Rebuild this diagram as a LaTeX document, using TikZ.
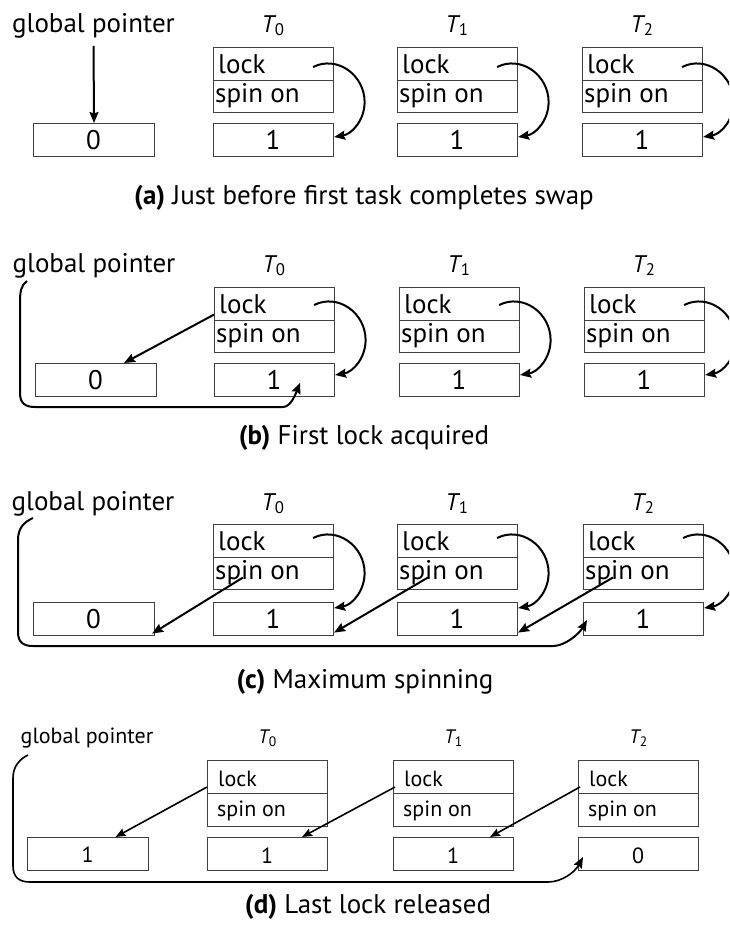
\documentclass[tikz,border=0pt]{standalone}
\usepackage{fontspec}
\setmainfont{PT Sans}
\usetikzlibrary{calc,arrows.meta}
\newcommand\fsz[1]{\fontsize{#1}{#1}\selectfont}
\newcommand\tsk[1]{\textit{T}\kern-1.5pt\textsubscript{#1}}
\tikzset{
  box/.style={draw=black!75, line width=1.1pt, minimum width=120pt, inner sep=0pt, anchor=north west},
  txt/.style={inner sep=0pt, anchor=base west},
  vtxt/.style={inner sep=0pt, anchor=base},
  arr/.style={line width=2pt, -{Stealth[length=11pt,width=9pt,inset=1.5pt]}},
  arrd/.style={line width=1.6pt, -{Stealth[length=10pt,width=8pt,inset=1.5pt]}},
  gline/.style={line width=2pt, -{Stealth[length=11pt,width=9pt,inset=1.5pt]}},
}
% #1 prefix, #2 x, #3 lock top, #4 value top, #5 value, #6 lock indent, #7 spin indent, #8 cell height, #9 font size
\newcommand\mkcol[9]{%
  \node[box,minimum height=#8pt] (#1L) at (#2,#3) {};
  \node[box,minimum height=#8pt] (#1S) at (#2,#3+#8) {};
  \node[box,minimum height=#8pt] (#1V) at (#2,#4) {};
  \node[txt,font={\fsz{#9}}] (#1lt) at (#2+#6,#3+26) {lock};
  \node[txt,font={\fsz{#9}}] (#1st) at (#2+#7,#3+#8+23) {spin on};
  \node[vtxt,font={\fsz{#9}}] (#1vt) at (#2+60,#4+26) {#5};
}
% #1 prefix, #2 start dy, #3 end dy
\newcommand\selfarr[3]{%
  \coordinate (#1s) at ($(#1L.north east)+(-21,#2)$);
  \coordinate (#1e) at ($(#1V.north east)+(0,#3)$);
  \coordinate (#1m) at ($(#1s)!0.5!(#1e)+(41,0)$);
  \draw[arr] (#1s) .. controls +(24,-12) and +(0,-27) .. (#1m) .. controls +(0,18) and +(18,-3) .. (#1e);
}
\begin{document}
\begin{tikzpicture}[x=1pt,y=-1pt]
\useasboundingbox (0,0) rectangle (729,929);
\clip (0,0) rectangle (729,929);

% ---------------- panel (a)
\node[vtxt,font={\fsz{27}}] (agp) at (93.5,32) {global pointer};
\node[vtxt,font={\fsz{24}}] (aT0) at (273,32) {\tsk{0}};
\node[vtxt,font={\fsz{24}}] (aT1) at (457,32) {\tsk{1}};
\node[vtxt,font={\fsz{24}}] (aT2) at (642,32) {\tsk{2}};
\node[box,minimum width=121pt,minimum height=32.5pt] (aG) at (33,123) {};
\node[vtxt,font={\fsz{27}}] (aGt) at (93.5,149) {0};
\mkcol{a0}{213}{47}{123}{1}{5}{2}{32.5}{27}
\mkcol{a1}{397}{47}{123}{1}{5}{2}{32.5}{27}
\mkcol{a2}{582}{47}{123}{1}{5}{2}{32.5}{27}
\draw[arr] ([yshift=-8pt]agp.south) -- (aG.north);
\selfarr{a0}{20}{14}
\selfarr{a1}{20}{14}
\selfarr{a2}{20}{14}
\node[vtxt,font={\fsz{27}}] (acap) at (364,204) {\textbf{(a)} Just before first task completes swap};

% ---------------- panel (b)
\node[vtxt,font={\fsz{27}}] (bgp) at (94,272) {global pointer};
\node[vtxt,font={\fsz{24}}] (bT0) at (274,272) {\tsk{0}};
\node[vtxt,font={\fsz{24}}] (bT1) at (459,272) {\tsk{1}};
\node[vtxt,font={\fsz{24}}] (bT2) at (644,272) {\tsk{2}};
\node[box,minimum width=121pt,minimum height=32.5pt] (bG) at (35,363) {};
\node[vtxt,font={\fsz{27}}] (bGt) at (95.5,389) {0};
\mkcol{b0}{214}{287}{363}{1}{5}{2}{32.5}{27}
\mkcol{b1}{399}{287}{363}{1}{5}{2}{32.5}{27}
\mkcol{b2}{584}{287}{363}{1}{5}{2}{32.5}{27}
\selfarr{b0}{18}{12}
\selfarr{b1}{18}{12}
\selfarr{b2}{18}{12}
\draw[arr] ($(b0L.south west)+(0,-6)$) -- ($(bG.north)+(28,0)$);
\coordinate (bgs) at (27,281);
\coordinate (bge) at ($(b0V.south east)+(-35,-14)$);
\draw[gline] (bgs) .. controls (21,285) and (20,292) .. (20,302) -- (20,393)
  .. controls (20,403) and (25,407) .. (35,407) -- (283,407)
  .. controls (291,407) and (296,393) .. (bge);
\node[vtxt,font={\fsz{27}}] (bcap) at (364,444) {\textbf{(b)} First lock acquired};

% ---------------- panel (c)
\node[vtxt,font={\fsz{27}}] (cgp) at (93,510) {global pointer};
\node[vtxt,font={\fsz{24}}] (cT0) at (273,510) {\tsk{0}};
\node[vtxt,font={\fsz{24}}] (cT1) at (457,510) {\tsk{1}};
\node[vtxt,font={\fsz{24}}] (cT2) at (643,510) {\tsk{2}};
\node[box,minimum width=121pt,minimum height=32.5pt] (cG) at (33,602) {};
\node[vtxt,font={\fsz{27}}] (cGt) at (93.5,628) {0};
\mkcol{c0}{213}{524}{602}{1}{5}{2}{32.5}{27}
\mkcol{c1}{397}{524}{602}{1}{5}{2}{32.5}{27}
\mkcol{c2}{583}{524}{602}{1}{5}{2}{32.5}{27}
\selfarr{c0}{14}{6}
\selfarr{c1}{14}{6}
\selfarr{c2}{14}{6}
\draw[arr] ($(c0S.north west)+(30,21)$) -- ($(cG.south east)+(-3,-2)$);
\draw[arr] ($(c1S.north west)+(31,21)$) -- ($(c0V.south east)+(0,-3)$);
\draw[arr] ($(c2S.north west)+(30,21)$) -- ($(c1V.south east)+(0,-3)$);
\coordinate (cgs) at (33,518);
\coordinate (cge) at ($(c2V.north west)+(4,18)$);
\draw[gline] (cgs) .. controls (24,522) and (18,528) .. (18,540) -- (18,632)
  .. controls (18,642) and (23,646) .. (33,646) -- (553,646)
  .. controls (565,646) and (579,634) .. (cge);
\node[vtxt,font={\fsz{27}}] (ccap) at (365,688) {\textbf{(c)} Maximum spinning};

% ---------------- panel (d)
\node[vtxt,font={\fsz{22}}] (dgp) at (87,743) {global pointer};
\node[vtxt,font={\fsz{19.5}}] (dT0) at (267.5,743) {\tsk{0}};
\node[vtxt,font={\fsz{19.5}}] (dT1) at (453.5,743) {\tsk{1}};
\node[vtxt,font={\fsz{19.5}}] (dT2) at (638.5,743) {\tsk{2}};
\node[box,minimum width=121pt,minimum height=33pt] (dG) at (27,837) {};
\node[vtxt,font={\fsz{22}}] (dGt) at (87.5,862) {1};
\mkcol{d0}{207}{760}{837}{1}{11}{10}{33}{22}
\mkcol{d1}{393}{760}{837}{1}{11}{10}{33}{22}
\mkcol{d2}{578}{760}{837}{0}{11}{10}{33}{22}
\draw[arrd] ($(d0L.north west)+(0,27)$) -- ($(dG.north)+(27.5,0)$);
\draw[arrd] ($(d1L.north west)+(2,27)$) -- ($(d0V.north)+(34.5,0)$);
\draw[arrd] ($(d2L.north west)+(2,27)$) -- ($(d1V.north)+(36.5,0)$);
\coordinate (dgs) at (28,755);
\coordinate (dge) at ($(d2V.north west)+(5,20)$);
\draw[gline,line width=1.6pt] (dgs) .. controls (20,759) and (13,766) .. (13,778) -- (13,866)
  .. controls (13,877) and (19,882) .. (30,882) -- (548,882)
  .. controls (562,882) and (575,872) .. (dge);
\node[vtxt,font={\fsz{27}}] (dcap) at (368,913) {\textbf{(d)} Last lock released};
\end{tikzpicture}
\end{document}
